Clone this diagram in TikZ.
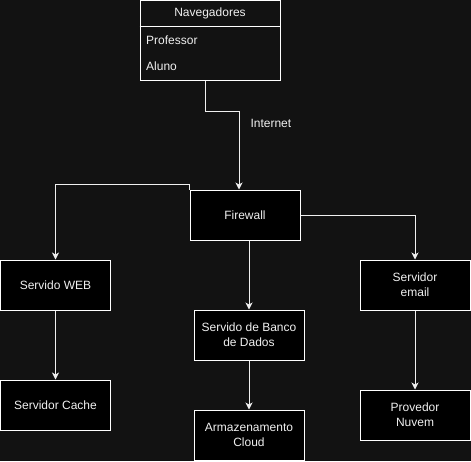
\documentclass[tikz,border=0pt]{standalone}
\usepackage{fontspec}
\setmainfont{Liberation Sans}
\usetikzlibrary{arrows.meta}
\definecolor{bg}{HTML}{121212}
\definecolor{fg}{HTML}{F0F0F0}
\begin{document}
\begin{tikzpicture}[x=1pt,y=-1pt,
  box/.style={draw=white, line width=1pt, fill=black, minimum width=110pt, minimum height=50pt,
    text=fg, align=center, inner sep=0pt, font=\fontsize{12}{15}\selectfont},
  txt/.style={text=fg, inner sep=0pt, font=\fontsize{12}{15}\selectfont},
  edge/.style={draw=fg, line width=1pt, -{Stealth[length=7pt,width=7pt,inset=2pt]}}]
\fill[bg] (0,0) rectangle (471,461);
\useasboundingbox (0,0) rectangle (471,461);
% Navegadores
\node[draw=white, line width=1pt, minimum width=140pt, minimum height=80pt, inner sep=0pt] (navg) at (210,40.5) {};
\draw[white, line width=1pt] (navg.west |- 0,26) -- (navg.east |- 0,26);
\node[txt] (navt) at (210,13) {Navegadores};
\node[txt, anchor=west] (prof) at (146,40) {Professor};
\node[txt, anchor=west] (alun) at (146,66) {Aluno};
% boxes
\node[box] (fw) at (245,215) {Firewall};
\node[box] (web) at (55.5,285) {Servido WEB};
\node[box] (cache) at (55.5,405) {Servidor Cache};
\node[box] (bd) at (249,335) {Servido de Banco\\de Dados};
\node[box] (arm) at (249,435) {Armazenamento\\Cloud};
\node[box] (email) at (415,285) {Servidor\\email};
\node[box] (nuv) at (415,415) {Provedor\\Nuvem};
% edges
\draw[edge] ([xshift=-5pt]navg.south) -- ++(0,30) -| ([xshift=-6pt]fw.north)
  node[pos=0.58, txt, anchor=west, xshift=11pt] (inet) {Internet};
\draw[edge] (fw.north west) -- ++(0,-5) -| (web.north);
\draw[edge] (fw.east) -| (email.north);
\draw[edge] (fw.south -| bd.north) -- (bd.north);
\draw[edge] (bd.south) -- (arm.north);
\draw[edge] (web.south) -- (cache.north);
\draw[edge] (email.south) -- (nuv.north);
\end{tikzpicture}
\end{document}
